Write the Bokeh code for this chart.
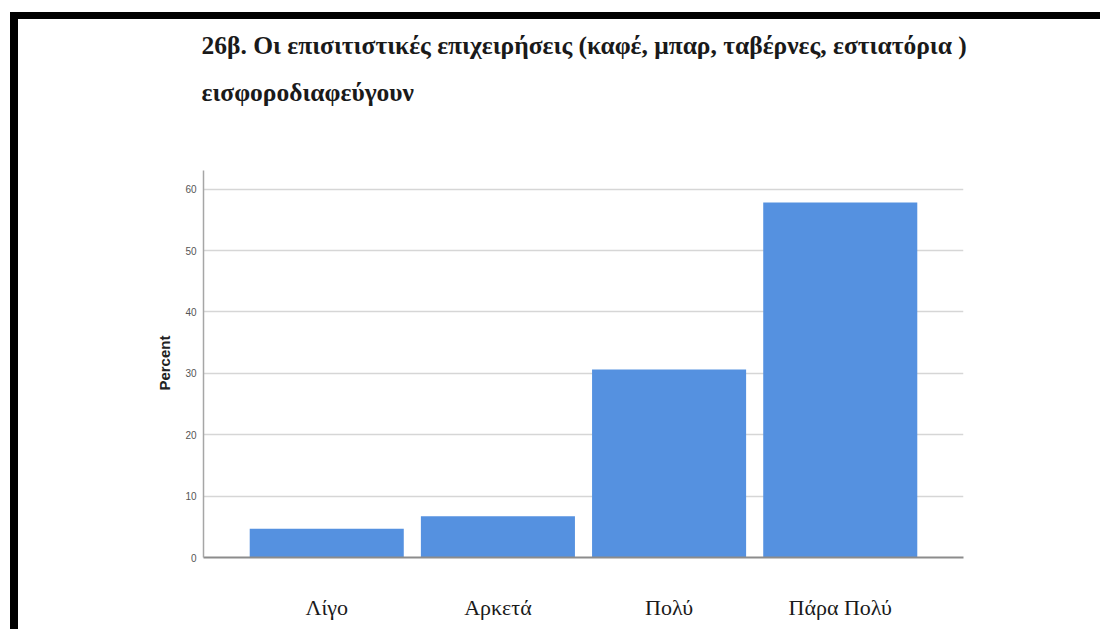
from bokeh.plotting import figure
from bokeh.models import FactorRange, Range1d, Title, FixedTicker
from bokeh.embed import file_html
from bokeh.resources import INLINE

categories = ["Λίγο", "Αρκετά", "Πολύ", "Πάρα Πολύ"]
percent = [4.7, 6.7, 30.6, 57.8]
y_ticks = [0, 10, 20, 30, 40, 50, 60]
title_line1 = "26β. Οι επισιτιστικές επιχειρήσεις (καφέ, μπαρ, ταβέρνες, εστιατόρια )"
title_line2 = "εισφοροδιαφεύγουν"
y_label = "Percent"

W, H = 1090, 617
FL, FR, FT, FB = 185, 945, 95, 538
PX_PER_UNIT = 6.14
Y_END = (FB - FT) / PX_PER_UNIT

p = figure(
    width=W, height=H,
    x_range=FactorRange(factors=categories, range_padding=0.22, range_padding_units="absolute"),
    y_range=Range1d(0, Y_END),
    output_backend="svg", toolbar_location=None,
    min_border_left=FL, min_border_right=W - FR,
    min_border_top=FT, min_border_bottom=H - FB,
    background_fill_color="white", border_fill_color="white",
)
p.styles = {
    "border-top": "7px solid black",
    "border-left": "8px solid black",
    "margin-left": "10px",
    "margin-top": "12px",
}
p.outline_line_color = None

p.vbar(x=categories, top=percent, width=0.9, fill_color="#5591E0", line_color=None)

p.xgrid.grid_line_color = None
p.ygrid.grid_line_color = "#d6d6d6"
p.ygrid.grid_line_width = 1.5
p.ygrid.ticker = FixedTicker(ticks=y_ticks)

ya = p.yaxis[0]
ya.bounds = (0, 63)
ya.ticker = FixedTicker(ticks=y_ticks)
ya.axis_line_color = "#a6a6a6"
ya.axis_line_width = 1.5
ya.major_tick_line_color = None
ya.minor_tick_line_color = None
ya.major_tick_out = 0
ya.major_tick_in = 0
ya.major_label_standoff = 7
ya.major_label_text_font = "Liberation Sans"
ya.major_label_text_font_size = "10px"
ya.major_label_text_color = "#555555"
# trailing no-break spaces shift the centred label down to the middle of the 0-63 axis
ya.axis_label = y_label + "\u00a0" * 13
ya.axis_label_text_font = "Liberation Sans"
ya.axis_label_text_font_style = "bold"
ya.axis_label_text_font_size = "15px"
ya.axis_label_text_color = "#222222"
ya.axis_label_standoff = 9

xa = p.xaxis[0]
xa.axis_line_color = "#8c8c8c"
xa.axis_line_width = 2
xa.major_tick_line_color = None
xa.minor_tick_line_color = None
xa.major_tick_out = 0
xa.major_tick_in = 0
xa.major_label_standoff = 37
xa.major_label_text_font = "Liberation Serif"
xa.major_label_text_font_size = "22px"
xa.major_label_text_color = "#1a1a1a"

t1 = Title(text=title_line1, align="left", offset=-2, standoff=16,
           text_font="Liberation Serif", text_font_style="bold",
           text_font_size="25.5px", text_color="#1a1a1a")
t2 = Title(text=title_line2, align="left", offset=-2, standoff=16,
           text_font="Liberation Serif", text_font_style="bold",
           text_font_size="25.5px", text_color="#1a1a1a")
p.title = None
p.add_layout(t2, "above")
p.add_layout(t1, "above")

open("out.html", "w").write(file_html(p, INLINE))
